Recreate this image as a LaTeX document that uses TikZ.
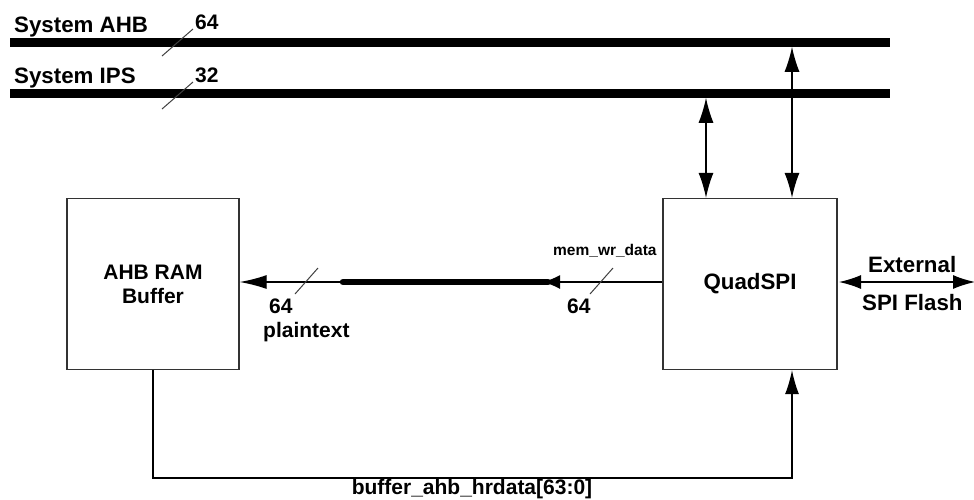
\documentclass[tikz,border=0pt]{standalone}
\usepackage{fontspec}
\setmainfont{Liberation Sans}
\usetikzlibrary{arrows.meta}
\begin{document}
\begin{tikzpicture}[x=1pt,y=-1pt,
  lbl/.style={font=\fontsize{21}{24}\selectfont\bfseries, inner sep=0pt},
  biglbl/.style={font=\fontsize{22.3}{24}\selectfont\bfseries, inner sep=0pt},
  smalllbl/.style={font=\fontsize{15.5}{18}\selectfont\bfseries, inner sep=0pt},
  blk/.style={draw=black!80, line width=1.3pt, minimum width=172pt, minimum height=171pt, inner sep=0pt, align=center, font=\fontsize{21}{24}\selectfont\bfseries},
  bus/.style={line width=8.5pt},
  wire/.style={line width=1.3pt},
  slash/.style={line width=1pt, draw=black!75},
  bigtip/.tip={Latex[length=25pt,width=15pt]},
  midtip/.tip={Latex[length=24pt,width=14pt]},
  exttip/.tip={Latex[length=22pt,width=14pt]}]
\useasboundingbox (0,0) rectangle (974,499);

% buses
\coordinate (ahbL) at (10,42.5);
\coordinate (ahbR) at (890,42.5);
\coordinate (ipsL) at (10,93.5);
\coordinate (ipsR) at (890,93.5);
\draw[bus] (ahbL) -- (ahbR);
\draw[bus] (ipsL) -- (ipsR);
\node[biglbl, anchor=base west] (lahb) at (14,32) {System AHB};
\node[lbl, anchor=base west] (l64a) at (195,29) {64};
\node[biglbl, anchor=base west] (lips) at (14,83) {System IPS};
\node[lbl, anchor=base west] (l32) at (195,82) {32};
\draw[slash] (162,56) -- (193,29);
\draw[slash] (162,109) -- (193,82);

% blocks
\node[blk] (ahb) at (153,284) {AHB RAM\\Buffer};
\node[blk, minimum width=174pt, font=\fontsize{22.3}{24}\selectfont\bfseries] (quad) at (750,284) {QuadSPI};

% vertical connections to buses
\coordinate (ipsTap) at (706,97.75);
\coordinate (ahbTap) at (792,46.75);
\draw[wire, bigtip-bigtip] (ipsTap) -- (ipsTap |- quad.north);
\draw[wire, bigtip-bigtip] (ahbTap) -- (ahbTap |- quad.north);

% main data path
\coordinate (thickA) at (343,282);
\coordinate (thickB) at (548,282);
\coordinate (tipB) at (543,282);
\coordinate (tipBs) at (600,282);
\draw[wire, -{Latex[length=27pt,width=14pt]}] (quad.west |- thickA) -- (ahb.east |- thickA);
\draw[line width=6.5pt, line cap=round] (thickA) -- (thickB);
\draw[wire, -{Latex[length=17pt,width=14pt]}] (tipBs) -- (tipB);
\draw[slash] (295,294) -- (318,268);
\draw[slash] (590,294) -- (613,268);
\node[lbl, anchor=base west] (l64b) at (269,313) {64};
\node[lbl, anchor=base west] (lpt) at (263,337) {plaintext};
\node[lbl, anchor=base west] (l64c) at (567,313) {64};
\node[smalllbl, anchor=base west] (lmem) at (553,255) {mem\_wr\_data};

% external
\coordinate (extL) at (839,282);
\coordinate (extR) at (975,282);
\draw[wire, exttip-exttip] (extL) -- (extR);
\node[biglbl, anchor=base west] (lext) at (868,272) {External};
\node[biglbl, anchor=base west] (lspi) at (862,310) {SPI Flash};

% bottom feedback
\coordinate (botL) at (153,478);
\coordinate (botR) at (792,478);
\draw[wire, -midtip] (ahb.south) -- (botL) -- (botR) -- (botR |- quad.south);
\node[lbl, anchor=base] (lbuf) at (472,494) {buffer\_ahb\_hrdata[63:0]};
\end{tikzpicture}
\end{document}
